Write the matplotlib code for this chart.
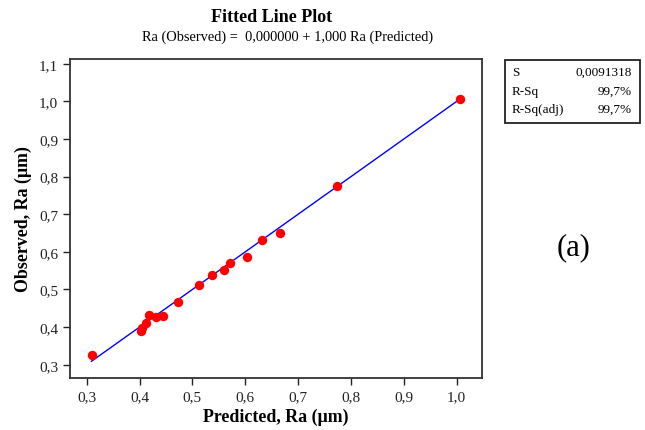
import matplotlib.pyplot as plt
import numpy as np

plt.rcParams['font.family'] = ['Liberation Serif', 'DejaVu Serif']

# Data
predicted = [0.311, 0.403, 0.404, 0.413, 0.418, 0.432, 0.444, 0.473, 0.513,
             0.537, 0.559, 0.572, 0.603, 0.631, 0.666, 0.773, 1.006]
observed = [0.326, 0.390, 0.397, 0.410, 0.432, 0.426, 0.429, 0.467, 0.512,
            0.538, 0.551, 0.570, 0.586, 0.631, 0.650, 0.774, 1.007]
intercept = 0.0
slope = 1.0
stats_names = ['S', 'R-Sq', 'R-Sq(adj)']
stats_values = ['0,0091318', '99,7%', '99,7%']
xticks = [0.3, 0.4, 0.5, 0.6, 0.7, 0.8, 0.9, 1.0]
yticks = [0.3, 0.4, 0.5, 0.6, 0.7, 0.8, 0.9, 1.0, 1.1]

fig = plt.figure(figsize=(6.45, 4.31), dpi=100)
ax = fig.add_axes([0.1085, 0.1206, 0.6388, 0.7404])

# fitted line over the predicted range
xl = np.array([min(predicted) - 0.002, max(predicted)])
ax.plot(xl, intercept + slope * xl, color='#0000ff', linewidth=1)
ax.scatter(predicted, observed, s=46, color='#ff0000', zorder=3, linewidths=0)

ax.set_xlim(0.2684, 1.048)
ax.set_ylim(0.2646, 1.113)
ax.set_xticks(xticks)
ax.set_yticks(yticks)
ax.set_xticklabels([f'{t:.1f}'.replace('.', ',') for t in xticks])
ax.set_yticklabels([f'{t:.1f}'.replace('.', ',') for t in yticks])
ax.tick_params(direction='out', length=5, width=1, labelsize=11, colors='#222222')
for s in ax.spines.values():
    s.set_linewidth(1.3)
    s.set_color('#333333')

ax.set_xlabel('Predicted, Ra (µm)', fontsize=12.9, fontweight='bold', labelpad=3.5)
ax.set_ylabel('Observed, Ra (µm)', fontsize=12.9, fontweight='bold', labelpad=5)

fig.text(272 / 645, 1 - 17 / 431, 'Fitted Line Plot', ha='center', va='center',
         fontsize=13, fontweight='bold')
fig.text(288 / 645, 1 - 37 / 431, 'Ra (Observed) =  0,000000 + 1,000 Ra (Predicted)',
         ha='center', va='center', fontsize=10.4)

# stats box
bx0, bx1, by0, by1 = 505 / 645, 640 / 645, 1 - 124 / 431, 1 - 61 / 431
fig.patches.append(plt.Rectangle((bx0, by0), bx1 - bx0, by1 - by0,
                                 transform=fig.transFigure, fill=False,
                                 edgecolor='#222222', linewidth=1.3))
row_y = [73, 92, 110]
for name, val, ry in zip(stats_names, stats_values, row_y):
    fig.text(bx0 + 7 / 645, 1 - ry / 431, name, ha='left', va='center', fontsize=9.5)
    fig.text(bx1 - 8 / 645, 1 - ry / 431, val, ha='right', va='center', fontsize=9.5)

fig.text(574 / 645, 1 - 248 / 431, '(a)', ha='center', va='center', fontsize=22)

fig.savefig('out.png', dpi=100)
